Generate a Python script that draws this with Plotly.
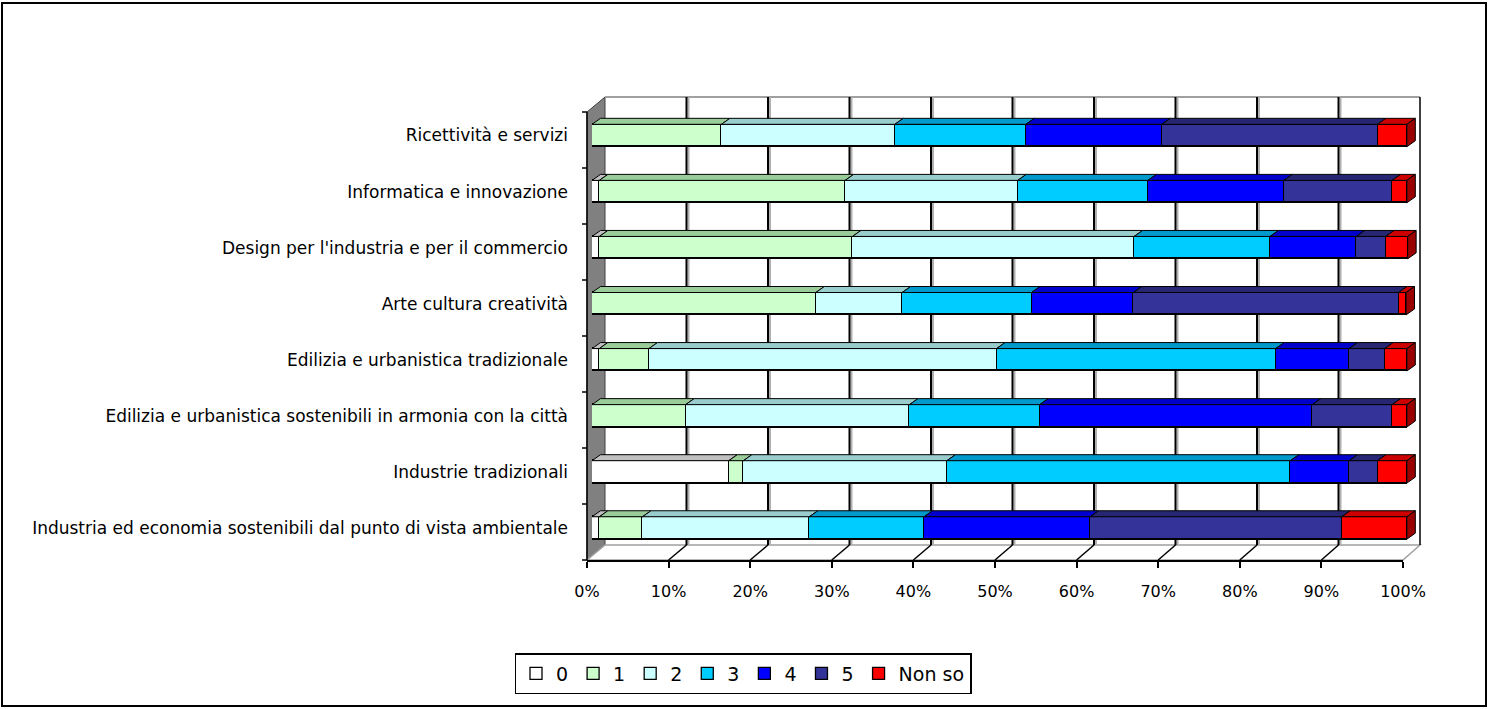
import plotly.graph_objects as go

W, H = 1488, 709

categories = [
    "Ricettività e servizi",
    "Informatica e innovazione",
    "Design per l'industria e per il commercio",
    "Arte cultura creatività",
    "Edilizia e urbanistica tradizionale",
    "Edilizia e urbanistica sostenibili in armonia con la città",
    "Industrie tradizionali",
    "Industria ed economia sostenibili dal punto di vista ambientale",
]
series_names = ["0", "1", "2", "3", "4", "5", "Non so"]
v0 = [0.0, 0.9, 0.9, 0.0, 0.9, 0.0, 16.8, 0.9]
v1 = [15.9, 30.2, 31.1, 27.5, 6.1, 11.5, 1.8, 5.3]
v2 = [21.3, 21.2, 34.6, 10.6, 42.7, 27.5, 25.0, 20.5]
v3 = [16.1, 16.0, 16.7, 15.9, 34.3, 16.0, 42.2, 14.1]
v4 = [16.7, 16.7, 10.6, 12.5, 9.0, 33.5, 7.2, 20.4]
v5 = [26.5, 13.3, 3.6, 32.6, 4.4, 9.8, 3.5, 30.9]
vns = [3.6, 1.8, 2.7, 0.9, 2.7, 1.8, 3.6, 8.0]
xtick_vals = [0, 10, 20, 30, 40, 50, 60, 70, 80, 90, 100]
xtick_text = ["0%", "10%", "20%", "30%", "40%", "50%", "60%", "70%", "80%", "90%", "100%"]

series = [v0, v1, v2, v3, v4, v5, vns]
colors = ["#FFFFFF", "#CCFFCC", "#CCFFFF", "#00CCFF", "#0000FF", "#333399", "#FF0000"]
top_colors = ["#C0C0C0", "#99CC99", "#99CCCC", "#0099CC", "#0000CC", "#262673", "#CC0000"]
side_color = "#990000"

FONT = "DejaVu Sans"


def px(x):
    return x / W


def py(y):
    return 1 - y / H


n = len(categories)
yvals = list(range(n - 1, -1, -1))  # top category at top

# front-face geometry (pixels)
bx0, bx1 = 592, 1406          # 0% and 100% on bar front
xmax = 102
ppu = (bx1 - bx0) / 100.0
ytop_px, ybot_px = 107.5, 556.0
rowpx = (ybot_px - ytop_px) / n
bw = 0.40
ddx_px, ddy_px = 8.5, 6.0
ddx = ddx_px / ppu
ddy = ddy_px / rowpx

fig = go.Figure()
for name, vals, col in zip(series_names, series, colors):
    fig.add_trace(go.Bar(
        y=yvals, x=vals, name=name, orientation="h",
        marker=dict(color=col, line=dict(color="#000000", width=1.3)),
        width=bw, hoverinfo="x+name",
    ))

# dummy trace to carry the front x axis
fig.add_trace(go.Scatter(x=[0, 100], y=[0, 0], xaxis="x3", yaxis="y3", mode="markers",
                         marker=dict(opacity=0), showlegend=False, hoverinfo="skip"))

shapes = []
wx0, wx1, wy0, wy1 = 605, 1420, 97, 545
fx0, fx1, fy = 587, 1403, 560
# side wall
shapes.append(dict(type="path", xref="paper", yref="paper", layer="below",
                   path=f"M {px(fx0)},{py(112)} L {px(wx0)},{py(wy0)} L {px(wx0)},{py(wy1)} L {px(fx0)},{py(fy)} Z",
                   fillcolor="#808080", line=dict(color="#404040", width=1)))
# floor
shapes.append(dict(type="path", xref="paper", yref="paper", layer="below",
                   path=f"M {px(fx0)},{py(fy)} L {px(wx0)},{py(wy1)} L {px(wx1)},{py(wy1)} L {px(fx1)},{py(fy)} Z",
                   fillcolor="#FFFFFF", line=dict(color="#A0A0A0", width=1.5)))
# back wall top & right edges
shapes.append(dict(type="line", xref="paper", yref="paper", layer="below",
                   x0=px(wx0), x1=px(wx1), y0=py(wy0), y1=py(wy0), line=dict(color="#A0A0A0", width=2)))
shapes.append(dict(type="line", xref="paper", yref="paper", layer="below",
                   x0=px(wx1), x1=px(wx1), y0=py(wy0), y1=py(wy1), line=dict(color="#000000", width=1.5)))
# gridlines on wall and floor
for t in xtick_vals[1:-1]:
    gx = wx0 + (wx1 - wx0) * t / 100
    fxx = fx0 + (fx1 - fx0) * t / 100
    shapes.append(dict(type="line", xref="paper", yref="paper", layer="below",
                       x0=px(gx + 2), x1=px(gx + 2), y0=py(wy0), y1=py(wy1), line=dict(color="#B0B0B0", width=2)))
    shapes.append(dict(type="line", xref="paper", yref="paper", layer="below",
                       x0=px(gx), x1=px(gx), y0=py(wy0), y1=py(wy1), line=dict(color="#000000", width=2)))
    shapes.append(dict(type="line", xref="paper", yref="paper", layer="below",
                       x0=px(gx), x1=px(fxx), y0=py(wy1), y1=py(fy), line=dict(color="#000000", width=1.5)))
# y axis line with category-boundary ticks
shapes.append(dict(type="line", xref="paper", yref="paper", layer="above",
                   x0=px(fx0), x1=px(fx0), y0=py(112), y1=py(fy), line=dict(color="#000000", width=1.5)))
for k in range(n + 1):
    yy = 112 + (fy - 112) * k / n
    shapes.append(dict(type="line", xref="paper", yref="paper", layer="above",
                       x0=px(fx0 - 5), x1=px(fx0), y0=py(yy), y1=py(yy), line=dict(color="#000000", width=1.5)))

# 3D top faces and right face for each bar
for yi, row in zip(yvals, range(n)):
    start = 0.0
    yt = yi + bw / 2
    for si, vals in enumerate(series):
        v = vals[row]
        if v <= 0:
            continue
        end = start + v
        shapes.append(dict(type="path", xref="x", yref="y", layer="above",
                           path=f"M {start},{yt} L {end},{yt} L {end + ddx},{yt + ddy} L {start + ddx},{yt + ddy} Z",
                           fillcolor=top_colors[si], line=dict(color="#000000", width=1)))
        start = end
    yb = yi - bw / 2
    shapes.append(dict(type="path", xref="x", yref="y", layer="above",
                       path=f"M {start},{yb} L {start},{yt} L {start + ddx},{yt + ddy} L {start + ddx},{yb + ddy} Z",
                       fillcolor=side_color, line=dict(color="#000000", width=1)))

# outer border
shapes.append(dict(type="rect", xref="paper", yref="paper", layer="above",
                   x0=px(2), x1=px(1486), y0=py(706), y1=py(3),
                   line=dict(color="#000000", width=2), fillcolor="rgba(0,0,0,0)"))

fig.update_layout(
    width=W, height=H,
    margin=dict(l=0, r=0, t=0, b=0, pad=0, autoexpand=False),
    paper_bgcolor="#FFFFFF", plot_bgcolor="rgba(0,0,0,0)",
    barmode="stack", bargap=0,
    font=dict(family=FONT, size=16, color="#000000"),
    shapes=shapes,
    xaxis=dict(domain=[px(bx0), px(bx0 + xmax * ppu)], range=[0, xmax], showgrid=False,
               zeroline=False, showticklabels=False, showline=False, ticks="", automargin=False),
    yaxis=dict(domain=[py(ybot_px), py(ytop_px)], range=[-0.5, n - 0.5], showgrid=False,
               zeroline=False, showline=False, ticks="", tickvals=yvals, ticktext=categories,
               ticklabelstandoff=23, tickfont=dict(family=FONT, size=17), automargin=False),
    xaxis3=dict(domain=[px(fx0), px(fx1)], range=[0, 100], anchor="y3", side="bottom",
                showgrid=False, zeroline=False, showline=True, linecolor="#000000", linewidth=1.5,
                ticks="outside", ticklen=6, tickcolor="#000000", tickwidth=1.5,
                tickvals=xtick_vals, ticktext=xtick_text, ticklabelstandoff=10,
                tickfont=dict(family=FONT, size=16), automargin=False),
    yaxis3=dict(domain=[py(fy), py(fy) + 0.01], range=[0, 1], visible=False, automargin=False),
    legend=dict(orientation="h", x=px(743), xanchor="center", y=py(653), yanchor="top",
                bordercolor="#000000", borderwidth=1.5, bgcolor="#FFFFFF",
                font=dict(family=FONT, size=19), traceorder="normal",
                itemwidth=30),
    showlegend=True,
)

fig.write_html("out.html", config={"displayModeBar": False},
               post_script="document.body.style.margin='0';document.body.style.overflow='hidden';")
